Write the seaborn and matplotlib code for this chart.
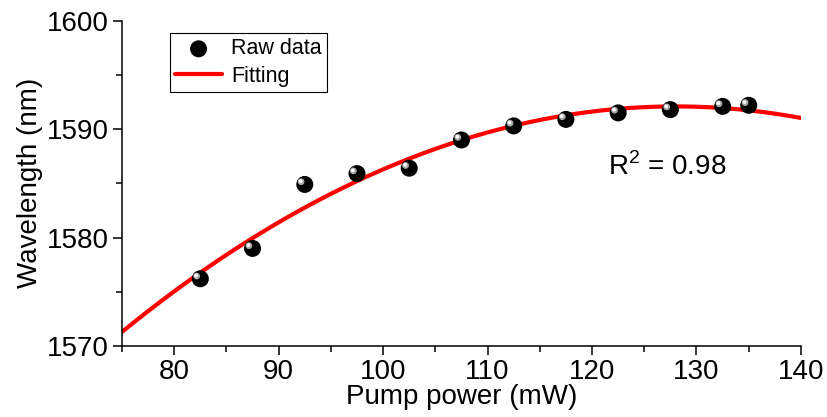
import numpy as np
import pandas as pd
import seaborn as sns
import matplotlib.pyplot as plt
from matplotlib.ticker import MultipleLocator

# raw data
pump_power = [82.5, 87.5, 92.5, 97.5, 102.5, 107.5, 112.5, 117.5, 122.5, 127.5, 132.5, 135.0]
wavelength = [1576.2, 1579.0, 1584.9, 1585.9, 1586.4, 1589.0, 1590.3, 1590.9, 1591.5, 1591.8, 1592.1, 1592.2]
r2_text = 'R$^2$ = 0.98'

df = pd.DataFrame({'pump': pump_power, 'wl': wavelength})

# quadratic fit of the raw data
coef = np.polyfit(df['pump'], df['wl'], 2)
x_fit = np.linspace(75, 140, 200)
df_fit = pd.DataFrame({'pump': x_fit, 'wl': np.polyval(coef, x_fit)})

sns.set_style('ticks', rc={'text.color': 'black', 'axes.labelcolor': 'black',
                           'xtick.color': 'black', 'ytick.color': 'black',
                           'axes.edgecolor': 'black'})
plt.rcParams['font.family'] = ['Liberation Sans', 'DejaVu Sans']
plt.rcParams['mathtext.fontset'] = 'custom'
plt.rcParams['mathtext.rm'] = 'Liberation Sans'

fig = plt.figure(figsize=(8.27, 4.17), dpi=100)
ax = fig.add_axes([0.1475, 0.1703, 0.821, 0.780])

sns.lineplot(data=df_fit, x='pump', y='wl', color='#ff0000', linewidth=3, ax=ax, label='Fitting', zorder=2)
sns.scatterplot(data=df, x='pump', y='wl', color='black', s=150, edgecolor='none', ax=ax, label='Raw data', zorder=3)
# highlight to fake the shaded ball
ax.scatter(df['pump'] - 0.35, df['wl'] + 0.25, s=24, color='#a8a8a8', edgecolor='none', zorder=4)
ax.scatter(df['pump'] - 0.4, df['wl'] + 0.3, s=7, color='white', edgecolor='none', zorder=5)

ax.set_xlim(75, 140)
ax.set_ylim(1570, 1600)
ax.xaxis.set_major_locator(MultipleLocator(10))
ax.xaxis.set_minor_locator(MultipleLocator(5))
ax.yaxis.set_major_locator(MultipleLocator(10))
ax.yaxis.set_minor_locator(MultipleLocator(5))
ax.tick_params(which='major', direction='out', length=6.5, width=1.1, labelsize=20, pad=3, colors='black')
ax.tick_params(which='minor', direction='out', length=4, width=1.1, colors='black')
for side in ['left', 'bottom']:
    ax.spines[side].set_linewidth(1.1)
sns.despine(ax=ax)

ax.set_xlabel('Pump power (mW)', fontsize=20, labelpad=-1)
ax.set_ylabel('Wavelength (nm)', fontsize=20, labelpad=3)

ax.text(121.5, 1585.8, r2_text, fontsize=20, ha='left', va='baseline')

handles, labels = ax.get_legend_handles_labels()
order = [labels.index('Raw data'), labels.index('Fitting')]
leg = ax.legend([handles[i] for i in order], [labels[i] for i in order],
                loc='upper left', bbox_to_anchor=(0.07, 0.962), fontsize=15.5,
                frameon=True, fancybox=False, edgecolor='black', framealpha=1,
                borderpad=0.25, labelspacing=0.3, handlelength=2.2, handletextpad=0.4,
                borderaxespad=0)
leg.get_frame().set_linewidth(0.8)

fig.savefig('out.png', dpi=100)
